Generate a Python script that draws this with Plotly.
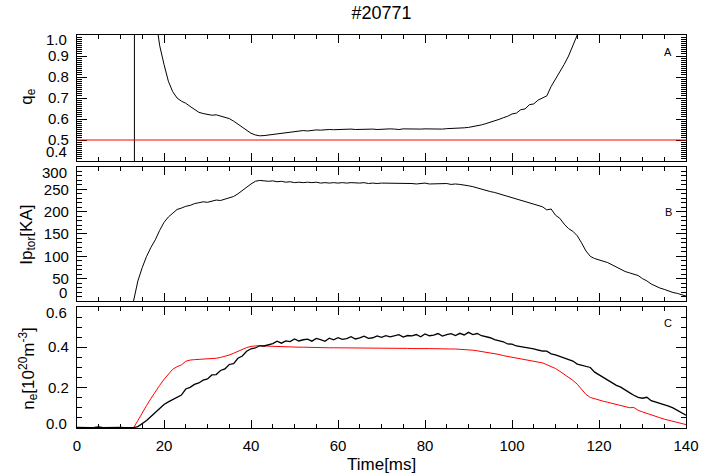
import plotly.graph_objects as go

# ---------------- data ----------------
shot_title = "#20771"

# panel A : edge safety factor q_e
t_q = list(range(18, 117))
q_e = [1.10, 0.95, 0.86, 0.78, 0.73, 0.70, 0.685, 0.675, 0.66, 0.645,
       0.632, 0.626, 0.622, 0.618, 0.62, 0.614, 0.61, 0.602, 0.59, 0.575,
       0.56, 0.545, 0.532, 0.524, 0.52, 0.521, 0.524, 0.526, 0.53, 0.532,
       0.536, 0.537, 0.541, 0.542, 0.545, 0.543, 0.546, 0.548, 0.547, 0.549,
       0.55, 0.549, 0.55, 0.551, 0.549, 0.552, 0.55, 0.551, 0.553, 0.551,
       0.552, 0.55, 0.552, 0.551, 0.553, 0.552, 0.55, 0.553, 0.552, 0.551,
       0.553, 0.552, 0.553, 0.552, 0.554, 0.553, 0.552, 0.554, 0.555, 0.553,
       0.556, 0.558, 0.56, 0.563, 0.567, 0.572, 0.578, 0.584, 0.59, 0.598,
       0.606, 0.613, 0.624, 0.628, 0.644, 0.648, 0.668, 0.672, 0.69, 0.70,
       0.71, 0.755, 0.79, 0.82, 0.86, 0.90, 0.95, 1.0, 1.08]
q_ref = 0.5
t_marker = 13.2

# panel B : plasma current Ip_tor [kA]
t_ip = list(range(13, 141))
ip_tor = [0, 45, 75, 100, 120, 137, 158, 176, 188, 197,
          205, 208, 212, 214, 218, 220, 222, 221, 224, 226,
          225, 228, 230, 234, 240, 248, 256, 262, 268, 270,
          269, 268, 269, 267, 268, 266, 267, 265, 266, 265,
          266, 265, 266, 264, 265, 264, 265, 264, 265, 264,
          265, 264, 264, 265, 263, 264, 263, 264, 264, 263,
          264, 263, 263, 264, 263, 262, 263, 264, 262, 262,
          263, 262, 263, 261, 262, 261, 260, 258, 256, 253,
          250, 248, 245, 243, 240, 237, 234, 231, 228, 225,
          222, 219, 216, 214, 211, 204, 206, 192, 185, 172,
          162, 156, 146, 130, 112, 100, 95, 92, 89, 86,
          81, 76, 71, 66, 63, 60, 57, 50, 45, 38,
          33, 29, 26, 22, 19, 17, 14, 11]

# panel C : electron density [1e20 m^-3]
t_ne = list(range(0, 141))
ne_black = [0.001, 0.0, 0.002, 0.0, 0.001, 0.003, 0.0, 0.001, 0.0, 0.002,
            0.001, 0.0, 0.001, 0.0, 0.005, 0.018, 0.035, 0.055, 0.075, 0.095,
            0.115, 0.128, 0.138, 0.152, 0.162, 0.192, 0.2, 0.215, 0.222, 0.236,
            0.242, 0.262, 0.264, 0.284, 0.292, 0.314, 0.318, 0.345, 0.356, 0.38,
            0.392, 0.396, 0.407, 0.406, 0.414, 0.418, 0.43, 0.42, 0.431, 0.428,
            0.441, 0.431, 0.437, 0.44, 0.43, 0.444, 0.438, 0.429, 0.445, 0.437,
            0.447, 0.439, 0.443, 0.452, 0.441, 0.446, 0.455, 0.444, 0.447, 0.456,
            0.449, 0.457, 0.451, 0.455, 0.462, 0.45, 0.458, 0.456, 0.463, 0.452,
            0.466, 0.457, 0.46, 0.468, 0.455, 0.463, 0.467, 0.458, 0.469, 0.461,
            0.474, 0.463, 0.468, 0.457, 0.453, 0.447, 0.438, 0.432, 0.427, 0.416,
            0.415, 0.406, 0.403, 0.398, 0.394, 0.392, 0.386, 0.381, 0.38, 0.367,
            0.362, 0.354, 0.346, 0.338, 0.331, 0.316, 0.31, 0.306, 0.299, 0.276,
            0.263, 0.247, 0.234, 0.223, 0.21, 0.201, 0.186, 0.174, 0.161, 0.15,
            0.146, 0.151, 0.134, 0.127, 0.123, 0.116, 0.107, 0.098, 0.087, 0.074,
            0.062]
ne_red = [0.0, 0.0, 0.0, 0.0, 0.0, 0.0, 0.0, 0.0, 0.0, 0.0,
          0.0, 0.0, 0.0, 0.0, 0.035, 0.075, 0.11, 0.145, 0.18, 0.21,
          0.24, 0.268, 0.29, 0.303, 0.312, 0.33, 0.336, 0.338, 0.339, 0.341,
          0.342, 0.344, 0.345, 0.349, 0.354, 0.361, 0.37, 0.38, 0.39, 0.398,
          0.404, 0.407, 0.408, 0.406, 0.405, 0.404, 0.403, 0.402, 0.402, 0.399,
          0.401, 0.4, 0.4, 0.399, 0.399, 0.398, 0.398, 0.398, 0.397, 0.397,
          0.397, 0.396, 0.397, 0.396, 0.396, 0.396, 0.395, 0.396, 0.395, 0.395,
          0.395, 0.395, 0.394, 0.395, 0.394, 0.394, 0.394, 0.393, 0.394, 0.393,
          0.393, 0.393, 0.392, 0.393, 0.392, 0.392, 0.391, 0.391, 0.39, 0.389,
          0.387, 0.385, 0.382, 0.379, 0.376, 0.373, 0.369, 0.364, 0.358, 0.354,
          0.353, 0.349, 0.345, 0.341, 0.337, 0.333, 0.328, 0.322, 0.313, 0.305,
          0.294, 0.28, 0.266, 0.252, 0.235, 0.216, 0.19, 0.165, 0.15, 0.143,
          0.137, 0.131, 0.126, 0.12, 0.115, 0.109, 0.104, 0.099, 0.1, 0.086,
          0.078, 0.07, 0.063, 0.056, 0.049, 0.042, 0.036, 0.03, 0.025, 0.02,
          0.015]

x_ticks = [0, 20, 40, 60, 80, 100, 120, 140]
x_ticklabels = ["0", "20", "40", "60", "80", "100", "120", "140"]
qa_ticks = [0.4, 0.5, 0.6, 0.7, 0.8, 0.9, 1.0]
qa_labels = ["0.4", "0.5", "0.6", "0.7", "0.8", "0.9", "1.0"]
ip_ticks = [0, 50, 100, 150, 200, 250, 300]
ip_labels = ["0", "50", "100", "150", "200", "250", "300"]
ne_ticks = [0.0, 0.2, 0.4, 0.6]
ne_labels = ["0.0", "0.2", "0.4", "0.6"]

# ---------------- figure ----------------
FONT = "Liberation Sans, Arial, Helvetica, sans-serif"
TICKFONT = dict(family=FONT, size=15, color="black")

fig = go.Figure()
fig.add_trace(go.Scatter(x=t_q, y=q_e, mode="lines", line=dict(color="black", width=1),
                         xaxis="x", yaxis="y", showlegend=False))
fig.add_trace(go.Scatter(x=t_ip, y=ip_tor, mode="lines", line=dict(color="black", width=1),
                         xaxis="x2", yaxis="y2", showlegend=False))
fig.add_trace(go.Scatter(x=t_ne, y=ne_red, mode="lines", line=dict(color="#ff0000", width=1),
                         xaxis="x3", yaxis="y3", showlegend=False))
fig.add_trace(go.Scatter(x=t_ne, y=ne_black, mode="lines", line=dict(color="black", width=1.3),
                         xaxis="x3", yaxis="y3", showlegend=False))

common = dict(showline=True, linecolor="black", linewidth=1.2, mirror="allticks",
              ticks="inside", tickcolor="black", tickwidth=1, showgrid=False,
              zeroline=False, tickfont=TICKFONT)

def xax(show_labels, anchor):
    return dict(common, range=[0, 140], tickvals=x_ticks, ticktext=x_ticklabels,
                ticklen=8, showticklabels=show_labels, anchor=anchor,
                domain=[0, 1], ticklabelstandoff=4,
                minor=dict(tick0=0, dtick=5, ticks="inside", ticklen=4,
                           tickcolor="black", showgrid=False))

def yax(rng, vals, labels, dom, anchor, minor_dtick):
    txt = [""] + labels[1:-1] + [""]
    return dict(common, range=rng, tickvals=vals, ticktext=txt, ticklen=10,
                domain=dom, anchor=anchor, ticklabelstandoff=4,
                minor=dict(tick0=0, dtick=minor_dtick, ticks="inside", ticklen=5,
                           tickcolor="black", showgrid=False))

domA = [0.6794, 1.0]
domB = [0.3232, 0.6641]
domC = [0.0, 0.3079]

fig.update_layout(
    width=711, height=474,
    margin=dict(l=77, r=16, t=35, b=46),
    paper_bgcolor="white", plot_bgcolor="white",
    font=dict(family=FONT, color="black"),
    title=dict(text=shot_title, x=0.5, xref="paper", xanchor="center",
               y=1 - 13 / 474, yanchor="middle", font=dict(family=FONT, size=18, color="black")),
    xaxis=xax(False, "y"),
    xaxis2=xax(False, "y2"),
    xaxis3=xax(True, "y3"),
    yaxis=yax([0.4, 1.0], qa_ticks, qa_labels, domA, "x", 0.01),
    yaxis2=yax([0, 300], ip_ticks, ip_labels, domB, "x2", 10),
    yaxis3=yax([-0.002, 0.6], ne_ticks, ne_labels, domC, "x3", 0.05),
)
fig.update_layout(xaxis=dict(matches="x3"), xaxis2=dict(matches="x3"))

# reference lines in panel A
fig.add_shape(type="line", xref="x", yref="y domain", x0=t_marker, x1=t_marker, y0=0, y1=1,
              line=dict(color="black", width=1))
fig.add_shape(type="line", xref="x domain", yref="y", x0=0, x1=1, y0=q_ref, y1=q_ref,
              line=dict(color="#ff0000", width=1))

ann = []
# edge tick labels nudged inward (as in the original stacked plot)
edge = [("y", qa_ticks[-1], qa_labels[-1], -4), ("y", qa_ticks[0], qa_labels[0], 10),
        ("y2", ip_ticks[-1], ip_labels[-1], -5), ("y2", ip_ticks[0], ip_labels[0], 8),
        ("y3", ne_ticks[-1], ne_labels[-1], -6), ("y3", ne_ticks[0], ne_labels[0], 4)]
for yref, yv, txt, sh in edge:
    ann.append(dict(xref="paper", x=0, xanchor="right", xshift=-8, yref=yref, y=yv,
                    yanchor="middle", yshift=sh, text=txt, showarrow=False, font=TICKFONT))

# panel letters
for yref, yv, txt in [("y", 0.921, "A"), ("y2", 200, "B"), ("y3", 0.52, "C")]:
    ann.append(dict(xref="paper", x=0.971, xanchor="center", yref=yref, y=yv, yanchor="middle",
                    text=txt, showarrow=False, font=dict(family=FONT, size=11, color="black")))

# axis titles
TITLEFONT = dict(family=FONT, size=17, color="black")
for yc, txt in [(0.842, "q<sub>e</sub>"), (0.491, "Ip<sub>tor</sub>[KA]"),
                (0.15, "n<sub>e</sub>[10<sup>20</sup>m<sup>-3</sup>]")]:
    ann.append(dict(xref="paper", x=-0.081, xanchor="center", yref="paper", y=yc,
                    yanchor="middle", textangle=-90, text=txt, showarrow=False, font=TITLEFONT))
ann.append(dict(xref="paper", x=0.5, xanchor="center", yref="paper", y=-0.094, yanchor="middle",
                text="Time[ms]", showarrow=False, font=TITLEFONT))

fig.update_layout(annotations=ann)
fig.write_html("out.html")
